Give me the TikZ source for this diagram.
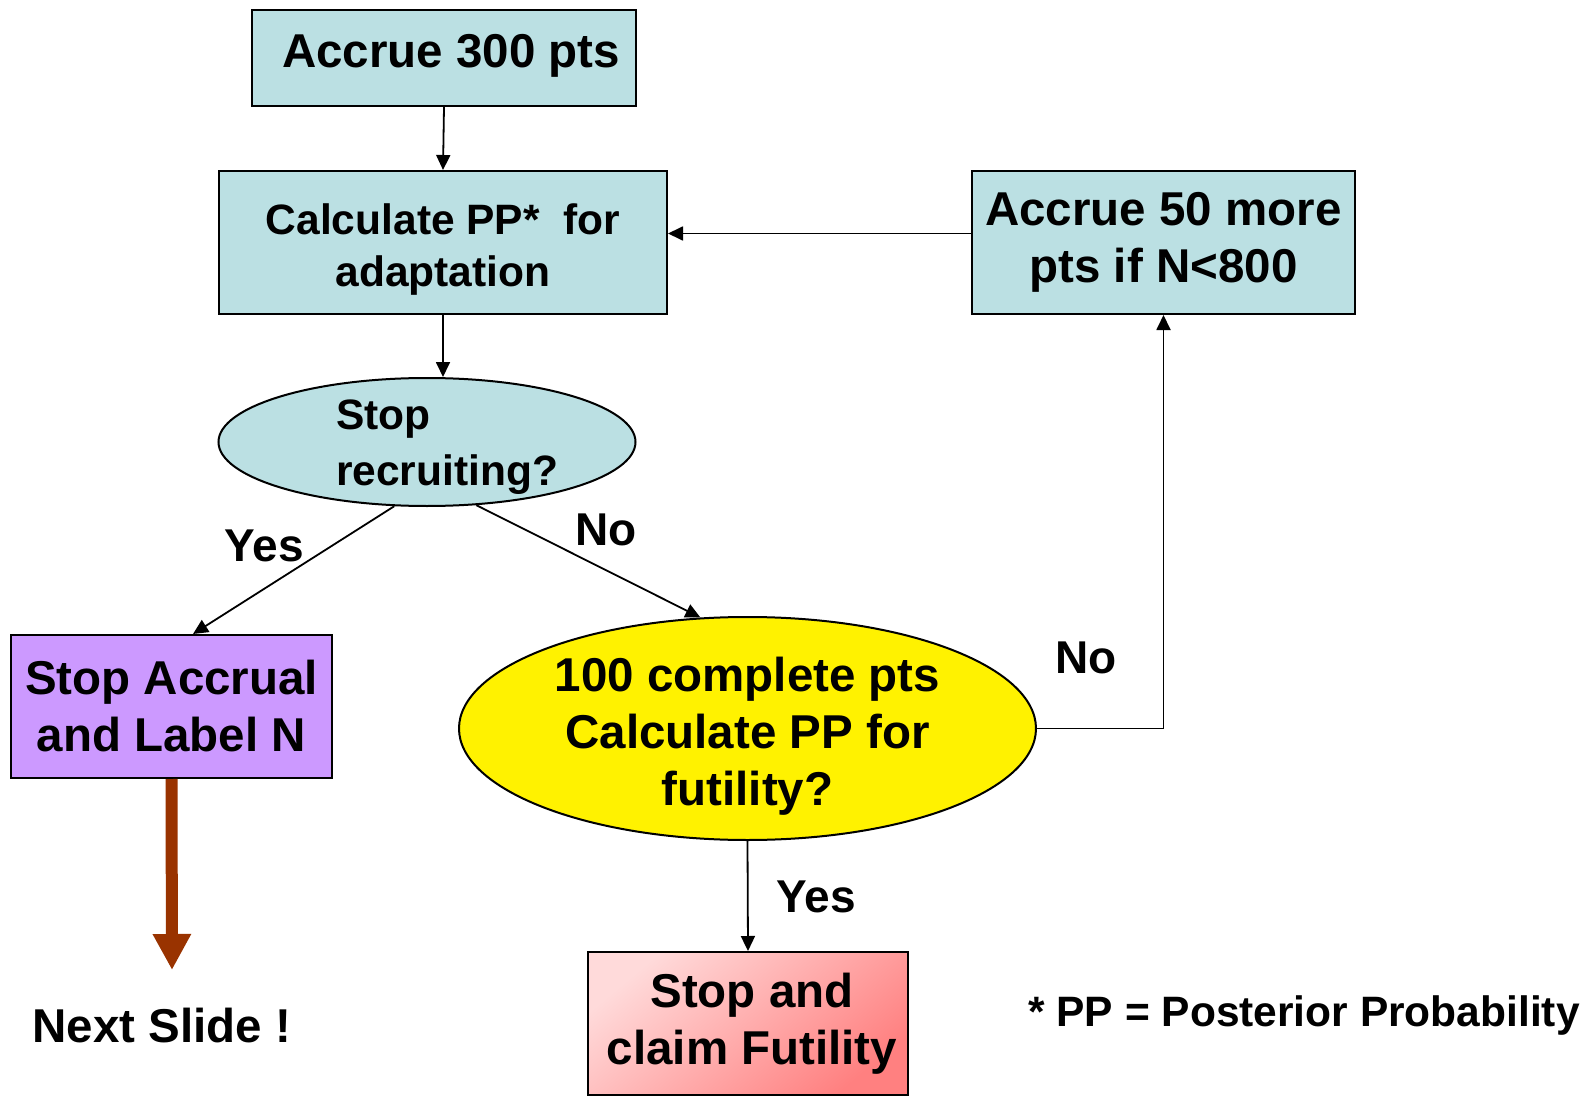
\documentclass[tikz,border=0pt]{standalone}
\usepackage{fontspec}
\setmainfont{Liberation Sans}
\usetikzlibrary{shapes.geometric,arrows.meta}
\definecolor{boxblue}{RGB}{187,224,227}
\definecolor{boxpurple}{RGB}{204,153,255}
\definecolor{arrowbrown}{RGB}{153,51,0}
\definecolor{pinklight}{RGB}{255,218,218}
\definecolor{pinkdark}{RGB}{255,128,128}

\begin{document}
\begin{tikzpicture}[x=0.5pt,y=-0.5pt,
  bigfont/.style={font=\bfseries\fontsize{23.75}{28.5}\selectfont},
  smallfont/.style={font=\bfseries\fontsize{21.25}{26}\selectfont},
  stagebox/.style={draw,line width=1pt,fill=boxblue,align=center,inner sep=0pt},
  flow/.style={-{Triangle[length=7.5pt,width=7pt]},line width=0.9pt}]
  \useasboundingbox (0,0) rectangle (1592,1097);

  % Blue process boxes
  \node[stagebox,minimum width=192pt,minimum height=48pt] (accrue300) at (444,58) {};
  \node[bigfont] (accrue300text) at (451,56) {Accrue 300 pts};
  \node[stagebox,minimum width=224pt,minimum height=71.5pt] (calcpp) at (443,242.5) {};
  \node[smallfont,align=center] (calcpptext) at (443,249.5) {Calculate PP*\ \ for\\adaptation};
  \node[stagebox,bigfont,minimum width=191.5pt,minimum height=71.5pt] (accrue50) at (1163.5,242.5) {Accrue 50 more\\pts if N<800};

  % Decision ellipses
  \node[draw,ellipse,line width=1pt,fill=boxblue,minimum width=208.5pt,minimum height=64pt,inner sep=0pt] (recruit) at (427,442) {};
  \node[align=left,font=\bfseries\fontsize{21.25}{28}\selectfont] (recruittext) at (447,447) {Stop\\recruiting?};
  \node[draw,ellipse,line width=1pt,fill=yellow,minimum width=288.5pt,minimum height=111.5pt,inner sep=0pt] (futility) at (747.5,728.5) {};
  \node[bigfont,align=center] (futilitytext) at (747.5,736.5) {100 complete pts\\Calculate PP for\\futility?};

  % Outcome boxes
  \node[draw,line width=1pt,fill=boxpurple,bigfont,align=center,minimum width=160.5pt,minimum height=71.5pt,inner sep=0pt] (stopaccrual) at (171.5,706.5) {Stop Accrual\\and Label N};
  \node[draw,line width=1pt,top color=pinklight,bottom color=pinkdark,shading angle=40,minimum width=160pt,minimum height=71.5pt,inner sep=0pt] (claim) at (748,1023.5) {};
  \node[bigfont,align=center] (claimtext) at (752,1023.5) {Stop and\\claim Futility};

  % Connectors
  \draw[flow] (accrue300.south) -- (calcpp.north);
  \draw[flow] (calcpp.south) -- (calcpp.south |- recruit.north);
  \draw[flow] ([yshift=4.5pt]accrue50.west) -- ([yshift=4.5pt]calcpp.east);
  \draw[flow] (recruit.243.8) -- ([xshift=10.75pt]stopaccrual.north);
  \draw[flow] (recruit.-52.3) -- (futility.113.8);
  \draw[flow] (futility.east) -| (accrue50.south);
  \draw[flow] (futility.south) -- (claim.north);

  % Thick arrow to next slide
  \coordinate (nextend) at (172,970);
  \draw[-{Triangle[length=18pt,width=18pt]},line width=6pt,arrowbrown] (stopaccrual.south) -- (nextend);

  % Labels
  \node[font=\bfseries\fontsize{23}{27}\selectfont] (yesleft) at (264,546) {Yes};
  \node[font=\bfseries\fontsize{23}{27}\selectfont] (nomid) at (606,530) {No};
  \node[font=\bfseries\fontsize{23}{27}\selectfont] (noright) at (1086,658) {No};
  \node[font=\bfseries\fontsize{23}{27}\selectfont] (yesbottom) at (816,897) {Yes};
  \node[bigfont] (nextslide) at (162,1026) {Next Slide !};
  \node[smallfont] (footnote) at (1304,1016) {* PP = Posterior Probability};
\end{tikzpicture}
\end{document}
